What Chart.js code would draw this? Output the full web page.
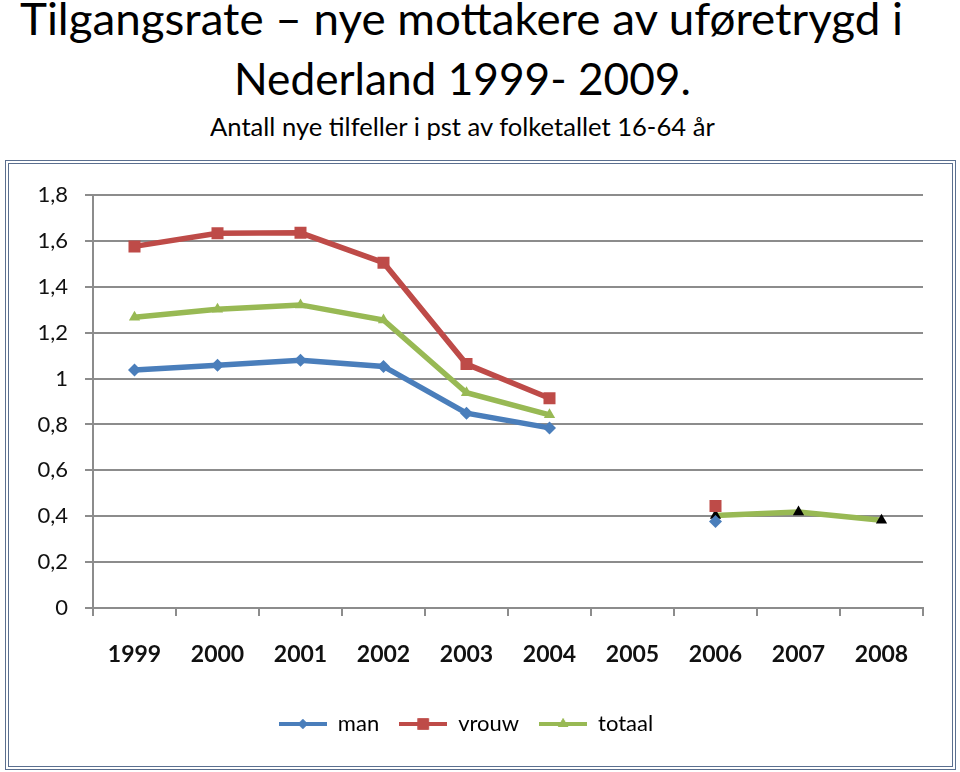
<!DOCTYPE html>
<html>
<head>
<meta charset="utf-8">
<script src="https://cdn.jsdelivr.net/npm/chart.js@4.4.1/dist/chart.umd.min.js"></script>
<style>
  html, body { margin: 0; padding: 0; background: #fff; }
  body { width: 960px; height: 772px; position: relative; overflow: hidden; font-family: Lato, "Open Sans", sans-serif; }
  .ttl { position: absolute; left: 0; width: 924px; text-align: center; white-space: nowrap; color: #000; line-height: 1; }
  .ttl span { display: inline-block; transform-origin: center; }
  #t1 { top: -4px; font-size: 44px; }
  #t2 { top: 56px; font-size: 44px; }
  #t3 { top: 114px; font-size: 25px; }
  #box { position: absolute; left: 5px; top: 160px; width: 943px; height: 602px; border: 4px double #5b6f8f; }
  #wrap { position: relative; width: 943px; height: 602px; }
</style>
</head>
<body>
<div class="ttl" id="t1"><span data-w="883">Tilgangsrate – nye mottakere av uføretrygd i</span></div>
<div class="ttl" id="t2"><span data-w="457">Nederland 1999- 2009.</span></div>
<div class="ttl" id="t3"><span data-w="505">Antall nye tilfeller i pst av folketallet 16-64 år</span></div>
<div id="box"><div id="wrap"><canvas id="chart"></canvas></div></div>
<script>
// squeeze titles to the reference widths (no Calibri here)
document.querySelectorAll('.ttl span').forEach(function (s) {
  s.style.transform = 'scaleX(' + (+s.dataset.w / s.offsetWidth) + ')';
});

const years = ['1999', '2000', '2001', '2002', '2003', '2004', '2005', '2006', '2007', '2008'];
const man = [1.037, 1.058, 1.08, 1.053, 0.849, 0.785, null, 0.377, null, null];
const vrouw = [1.576, 1.633, 1.635, 1.505, 1.063, 0.914, null, 0.445, null, null];
const totaal = [1.267, 1.302, 1.321, 1.255, 0.938, 0.842, null, 0.403, 0.418, 0.382];

const blue = '#4a7ebb';
const red = '#be4b48';
const green = '#98b954';
const grid = '#8c8c8c';

// black markers on the totaal line after the break
const totaalPts = totaal.map((v, i) => (i > 6 ? '#000000' : green));

/* --------------- legend swatches: line with marker --------------------- */
function swatch(color, style, r) {
  const c = document.createElement('canvas');
  c.width = 48; c.height = 20;
  const ctx = c.getContext('2d');
  ctx.strokeStyle = color;
  ctx.lineWidth = 4;
  ctx.beginPath(); ctx.moveTo(0, 10); ctx.lineTo(48, 10); ctx.stroke();
  ctx.fillStyle = color;
  Chart.helpers.drawPoint(ctx, { pointStyle: style, radius: r, borderWidth: 0 }, 24, 10);
  ctx.fill();
  return c;
}
const swatches = [swatch(blue, 'rectRot', 5), swatch(red, 'rect', 8), swatch(green, 'triangle', 6)];

const font = { family: 'Lato, "Open Sans", sans-serif' };

new Chart(document.getElementById('chart'), {
  type: 'line',
  data: {
    labels: years,
    datasets: [
      { label: 'man', data: man, borderColor: blue, backgroundColor: blue, borderWidth: 5.5,
        pointStyle: 'rectRot', pointRadius: 6.5, pointBorderWidth: 0 },
      { label: 'vrouw', data: vrouw, borderColor: red, backgroundColor: red, borderWidth: 5.5,
        pointStyle: 'rect', pointRadius: 8.5, pointBorderWidth: 0 },
      { label: 'totaal', data: totaal, borderColor: green, backgroundColor: totaalPts, borderWidth: 5.5,
        pointStyle: 'triangle', pointRadius: 6.5, pointBorderWidth: 0 },
    ],
  },
  options: {
    responsive: true,
    maintainAspectRatio: false,
    animation: false,
    spanGaps: false,
    layout: { padding: { top: 31, right: 29, bottom: 21, left: 0 } },
    scales: {
      x: {
        offset: true,
        afterFit: (s) => { s.height = 85; },
        grid: { offset: true, drawOnChartArea: false, drawTicks: true, tickLength: 8, color: grid, lineWidth: 2 },
        border: { display: true, color: grid, width: 2 },
        ticks: { color: '#111', padding: 25, font: { ...font, size: 23, weight: 'bold' }, autoSkip: false, maxRotation: 0 },
      },
      y: {
        min: 0,
        max: 1.8,
        afterFit: (s) => { s.width = 84; },
        grid: { color: grid, lineWidth: 2, tickLength: 8 },
        border: { display: true, color: grid, width: 2 },
        ticks: {
          stepSize: 0.2,
          color: '#111',
          padding: 17,
          font: { ...font, size: 22 },
          callback: (v) => String(Math.round(v * 10) / 10).replace('.', ','),
        },
      },
    },
    plugins: {
      tooltip: { enabled: false },
      legend: {
        position: 'bottom',
        labels: {
          color: '#111',
          padding: 20,
          usePointStyle: true,
          pointStyleWidth: 48,
          font: { ...font, size: 22 },
          generateLabels: (chart) =>
            chart.data.datasets.map((d, i) => ({
              text: d.label,
              pointStyle: swatches[i],
              fillStyle: d.borderColor,
              strokeStyle: d.borderColor,
              lineWidth: 0,
              hidden: false,
              datasetIndex: i,
            })),
        },
      },
    },
  },
});
</script>
</body>
</html>
